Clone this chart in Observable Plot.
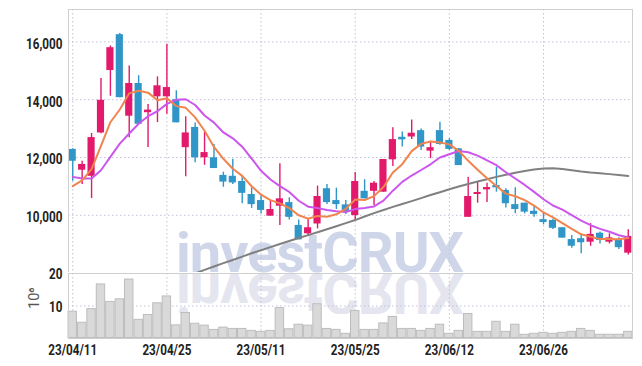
<!DOCTYPE html>
<html><head><meta charset="utf-8">
<script src="https://cdn.jsdelivr.net/npm/d3@7"></script>
<script src="https://cdn.jsdelivr.net/npm/@observablehq/plot@0.6"></script>
<style>
body{margin:0;background:#fff;}
#wrap{position:relative;width:642px;height:366px;overflow:hidden;}
.wm{position:absolute;font-family:Roboto,sans-serif;font-weight:bold;font-size:56px;line-height:56px;white-space:nowrap;letter-spacing:-1px;}
#wm1{left:176px;top:225px;color:#d0d6ea;}
#wmr{position:absolute;left:176px;top:274px;width:320px;height:40px;overflow:hidden;}
#wm2{left:0;top:-47px;color:#e5e5ef;transform:scaleY(-1);transform-origin:0 47px;}
#pricebox{position:absolute;left:0;top:0;z-index:1;}
#volbox{position:absolute;left:0;top:262px;z-index:2;}
#pricebox svg,#volbox svg{display:block;}
</style></head>
<body>
<div id="wrap">
  <div class="wm" id="wm1">investCRUX</div>
  <div id="wmr"><div class="wm" id="wm2">investCRUX</div></div>
  <div id="pricebox"></div>
  <div id="volbox"></div>
</div>
<script>
const dates = ["23/04/11","23/04/12","23/04/13","23/04/14","23/04/17","23/04/18","23/04/19","23/04/20","23/04/21","23/04/24",
"23/04/25","23/04/26","23/04/27","23/04/28","23/05/02","23/05/03","23/05/04","23/05/08","23/05/09","23/05/10",
"23/05/11","23/05/12","23/05/15","23/05/16","23/05/17","23/05/18","23/05/19","23/05/22","23/05/23","23/05/24",
"23/05/25","23/05/26","23/05/30","23/05/31","23/06/01","23/06/02","23/06/05","23/06/07","23/06/08","23/06/09",
"23/06/12","23/06/13","23/06/14","23/06/15","23/06/16","23/06/19","23/06/20","23/06/21","23/06/22","23/06/23",
"23/06/26","23/06/27","23/06/28","23/06/29","23/06/30","23/07/03","23/07/04","23/07/05","23/07/06","23/07/07"];
const open  = [12280,11560,11350,12850,15010,16250,13430,14560,13550,14100,14100,14000,12340,13040,11990,11990,11380,11350,11170,10720,
10510,9970,10315,10440,9650,9360,9700,10920,10510,10360,9990,10830,10830,10800,11920,12700,12710,12930,12220,12930,
12590,12300,9930,10720,10880,11030,10860,10370,10420,10140,9850,9820,9570,9160,9190,9070,9380,9070,9160,8690];
const high  = [12300,11870,12830,14730,15860,16290,15170,14830,13830,14790,15920,14310,13410,13190,12890,12450,11490,11940,11350,10950,
10690,10490,11780,10610,9840,9870,11010,11070,10940,10510,11480,11230,11170,11930,13030,12880,13300,12990,12560,13220,
12650,12300,11320,11170,11110,11660,10920,10950,10420,10340,10090,9860,9570,9300,9300,9710,9420,9360,9220,9500];
const low   = [11180,11070,10580,12820,14120,14070,12680,13150,12350,13210,13500,13200,11330,11820,11730,11620,10970,11070,10400,10240,
10050,9970,9650,9840,9150,9270,9530,10370,10200,10030,9820,10570,10340,10800,11690,12360,12620,12240,11960,12420,
12240,11720,9930,10420,10440,10800,10250,10050,10050,9930,9670,9510,9210,8860,8670,8930,9010,9010,8820,8630];
const close = [11870,11760,12690,13980,15800,14070,14560,13150,13640,14480,14420,13200,12850,11990,12170,11620,11150,11120,10760,10370,
10170,10200,10570,9930,9150,9570,10650,10440,10370,10100,11170,10570,11110,11930,12620,12610,12840,12360,12340,12450,
12280,11720,10650,10790,10960,10950,10400,10200,10110,10030,9750,9550,9210,8930,9050,9340,9130,9220,8880,9270];
const volume = [8.4,5.0,9.2,16.8,11.4,12.2,18.3,5.9,7.4,11.0,13.1,4.2,8.0,4.7,4.1,2.8,3.5,3.1,3.1,2.5,
2.2,2.5,9.5,3.0,4.4,4.1,10.7,3.1,2.8,1.6,8.6,2.8,2.8,4.8,6.8,3.1,3.1,2.5,3.1,4.4,
1.6,2.5,7.7,2.2,2.2,5.3,2.2,4.4,1.3,1.6,1.9,1.6,1.9,2.2,3.1,2.5,1.3,1.3,1.3,2.2];
const ma5 = [11010,11210,11600,12400,13220,13660,14220,14312,14244,13980,14050,13778,13718,13388,12926,12366,11956,11610,11364,11004,
10714,10524,10414,10248,10004,9884,9974,9948,10036,10226,10546,10530,10664,10976,11480,11768,12222,12472,12554,12520,
12454,12230,11888,11578,11280,11014,10750,10660,10524,10338,10098,9928,9730,9534,9342,9260,9176,9178,9168,9212];
const ma10 = [11330,11270,11270,11560,12020,12480,12830,13170,13430,13600,13855,13999,14015,13816,13453,13208,12867,12664,12376,11965,
11540,11240,11012,10806,10504,10299,10249,10181,10142,10115,10215,10252,10306,10506,10853,11157,11376,11568,11765,12000,
12111,12226,12180,12066,11900,11734,11490,11274,11051,10809,10556,10339,10195,10009,9818,9657,9530,9432,9309,9233];
const ma60 = [null,null,null,null,null,null,null,null,null,null,null,null,7880,7990,8110,8230,8345,8455,8570,8685,
8790,8900,9005,9110,9215,9315,9415,9515,9620,9730,9835,9960,10075,10185,10290,10390,10490,10595,10700,10800,
10900,10995,11085,11170,11250,11330,11400,11470,11530,11585,11620,11625,11600,11560,11515,11480,11455,11425,11395,11360];
const priceTicks = [10000,12000,14000,16000];
const volTicks = [10,20];
const dateTicks = [0,10,20,30,40,50];

const rows = dates.map((d,i)=>({i, date:d, open:open[i], high:high[i], low:low[i], close:close[i],
  volume:volume[i], ma5:ma5[i], ma10:ma10[i], ma60:ma60[i]}));
const UP = "#e31a6b", DOWN = "#3096c8";
const col = d => d.close >= d.open ? UP : DOWN;
const grid = {stroke:"#c2c2da", strokeDasharray:"1.5,2.5", strokeOpacity:1};
const font = "Roboto,sans-serif";
const xdom = [-0.45, 59.45];

const price = Plot.plot({
  width:642, height:272, marginLeft:68, marginRight:10, marginTop:9, marginBottom:0,
  style:{background:"none", fontFamily:font, fontSize:"15px", fontWeight:"bold", color:"#222"},
  x:{domain:xdom, axis:null},
  y:{domain:[8021,17121], axis:null},
  marks:[
    Plot.ruleY(priceTicks, grid),
    Plot.ruleX(dateTicks, grid),
    Plot.ruleX(rows, {x:"i", y1:"low", y2:"high", stroke:col, strokeWidth:1.4}),
    Plot.rect(rows, {x1:d=>d.i-0.38, x2:d=>d.i+0.38, y1:"open", y2:"close", fill:col}),
    Plot.lineY(rows, {x:"i", y:"ma60", stroke:"#808080", strokeWidth:2, clip:true}),
    Plot.lineY(rows, {x:"i", y:"ma10", stroke:"#cc55ee", strokeWidth:2}),
    Plot.lineY(rows, {x:"i", y:"ma5", stroke:"#f0844e", strokeWidth:2}),
    Plot.axisY(priceTicks, {tickFormat:d3.format(","), tickSize:0, tickPadding:6, dy:2, label:null}),
    Plot.frame({stroke:"#cfcfcf"})
  ]
});

const vol = Plot.plot({
  width:642, height:104, marginLeft:68, marginRight:10, marginTop:11, marginBottom:28,
  style:{background:"none", fontFamily:font, fontSize:"15px", fontWeight:"bold", color:"#222"},
  x:{domain:xdom, label:null},
  y:{domain:[0,20], label:null},
  marks:[
    Plot.ruleY(volTicks, grid),
    Plot.ruleX(dateTicks, grid),
    Plot.rect(rows, {x1:d=>d.i-0.5, x2:d=>d.i+0.5, y1:0, y2:"volume", fill:"#d9d9d9", stroke:"#bdbdbd", strokeWidth:1, inset:0.5}),
    Plot.axisY(volTicks, {tickSize:0, tickPadding:6, dy:1, label:null}),
    Plot.axisX(dateTicks, {tickFormat:i=>dates[i], tickSize:0, tickPadding:6, label:null}),
    Plot.text(["10⁶"], {frameAnchor:"left", dx:-34, dy:3, rotate:-90, fontSize:14.5, fontWeight:"normal", fill:"#555", fontFamily:"Roboto"}),
    Plot.frame({stroke:"#cfcfcf"})
  ]
});

document.getElementById("pricebox").append(price);
document.getElementById("volbox").append(vol);
// condense the tick labels to match the narrow typeface of the reference
document.querySelectorAll('#wrap g[aria-label$="tick label"] text').forEach(t => {
  const w = t.getComputedTextLength();
  t.setAttribute("textLength", (w * 0.78).toFixed(1));
  t.setAttribute("lengthAdjust", "spacingAndGlyphs");
});
</script>
</body></html>
